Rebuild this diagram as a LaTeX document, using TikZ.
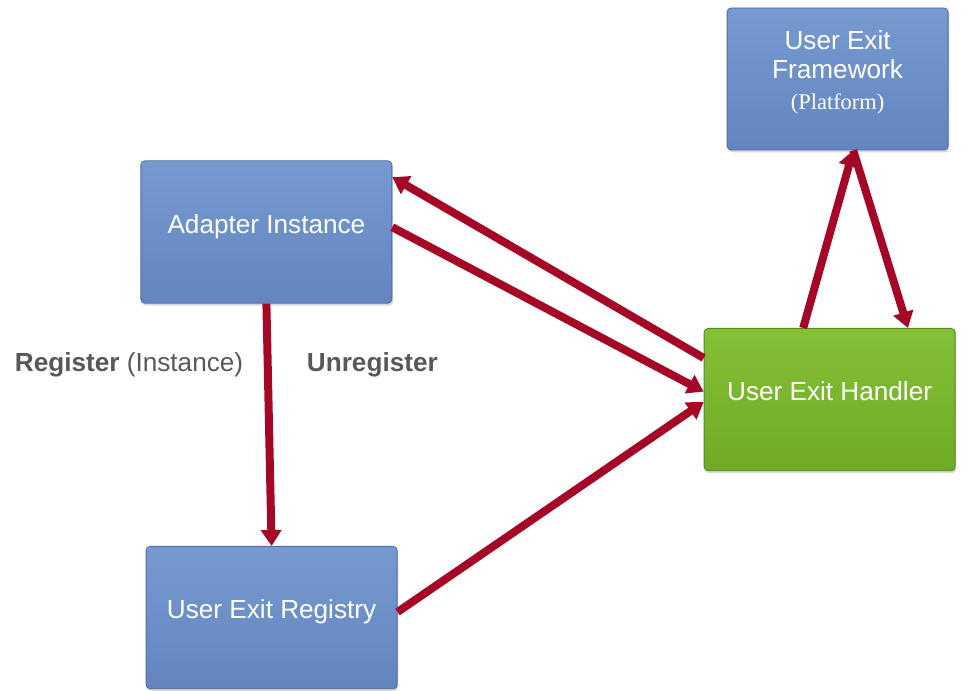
\documentclass[tikz,border=0pt]{standalone}
\usepackage{fontspec}
\setmainfont{Liberation Sans}
\newfontfamily\platformfont{Liberation Serif}
\usepackage{xcolor}
\usetikzlibrary{calc}
\usetikzlibrary{arrows.meta}
\usetikzlibrary{shadows}
\usetikzlibrary{positioning}

\definecolor{boxBlueTop}{RGB}{118,154,208}
\definecolor{boxBlueBottom}{RGB}{98,133,190}
\definecolor{boxBlueEdge}{RGB}{80,110,162}
\definecolor{boxGreenTop}{RGB}{132,192,54}
\definecolor{boxGreenBottom}{RGB}{112,170,38}
\definecolor{boxGreenEdge}{RGB}{88,136,28}
\definecolor{linkRed}{RGB}{165,8,38}
\definecolor{labelGray}{RGB}{88,88,88}

\tikzset{
	box/.style={rectangle, rounded corners=0.1cm, minimum width=6.275cm, minimum height=3.56cm,
		text=white, align=center, font=\fontsize{18.6}{20.6}\selectfont, text depth=0.42cm,
		drop shadow={shadow xshift=0.03cm, shadow yshift=-0.06cm, opacity=0.3}},
	bluebox/.style={box, top color=boxBlueTop, bottom color=boxBlueBottom, draw=boxBlueEdge, line width=0.6pt},
	greenbox/.style={box, top color=boxGreenTop, bottom color=boxGreenBottom, draw=boxGreenEdge, line width=0.6pt},
	link/.style={draw=linkRed, line width=0.2cm, -{Triangle[length=0.4cm, width=0.5cm]}},
	linklabel/.style={text=labelGray, font=\fontsize{18.6}{22}\selectfont}
}

\begin{document}
\begin{tikzpicture}
	\useasboundingbox (0,0) rectangle (24.4,17.25);		% page size
	
	% boxes
	\node[bluebox, minimum width=5.525cm, minimum height=3.55cm, text depth=0.45cm] (framework) at (20.94,15.275) {User Exit\\Framework\\[0.05cm]{\platformfont\fontsize{16}{18}\selectfont (Platform)}};
	\node[bluebox] (adapter) at (6.66,11.45) {Adapter Instance};
	\node[greenbox] (handler) at (20.74,7.26) {User Exit Handler};
	\node[bluebox] (registry) at (6.79,1.81) {User Exit Registry};
	
	% links between adapter and handler
	\draw[link] ([yshift=1.04cm]handler.west) -- ([yshift=-0.42cm]adapter.north east);
	\draw[link] ([yshift=0.12cm]adapter.east) -- ([yshift=0.2cm]handler.west);
	
	% registry
	\draw[link] (adapter.south) -- (registry.north);
	\draw[link] ([yshift=0.14cm]registry.east) -- ([yshift=-0.06cm]handler.west);
	
	% handler and framework
	\draw[link] ([xshift=-0.66cm]handler.north) -- ([xshift=0.39cm]framework.south);
	\draw[link] ([xshift=0.39cm]framework.south) -- ([xshift=1.96cm]handler.north);
	
	% labels
	\node[linklabel, anchor=west] (registerlabel) at (0.25,8.12) {\textbf{Register} (Instance)};
	\node[linklabel, anchor=west] (unregisterlabel) at (7.55,8.12) {\textbf{Unregister}};
\end{tikzpicture}
\end{document}
